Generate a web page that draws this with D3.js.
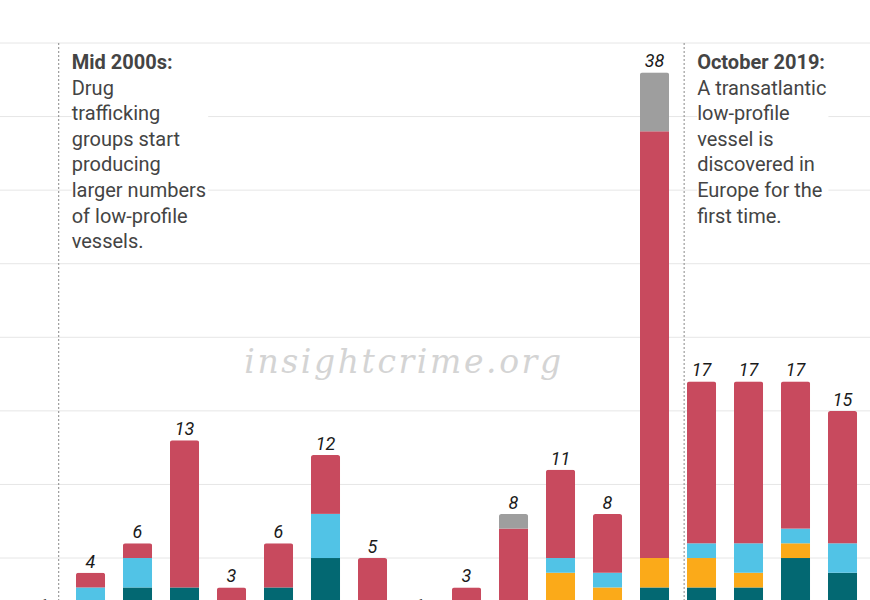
<!DOCTYPE html>
<html><head><meta charset="utf-8">
<script src="https://cdn.jsdelivr.net/npm/d3@7"></script>
<style>
html,body{margin:0;padding:0;background:#fff;overflow:hidden;}
svg{display:block;}
</style></head>
<body>
<svg id="chart" width="870" height="640"></svg>
<script>
// ---- data ----
const years = ["2006","2007","2008","2009","2010","2011","2012","2013","2014","2015","2016","2017","2018","2019","2020","2021","2022","2023"];
const seriesKeys = ["teal","orange","blue","red","gray"];
const teal   = [0,0,3,3,0,3,5,0,0,0,0,0,0,3,3,3,5,4];
const orange = [0,0,0,0,0,0,0,0,0,0,0,4,3,2,2,1,1,0];
const blue   = [0,3,2,0,0,0,3,0,0,0,0,1,1,0,1,2,1,2];
const red    = [1,1,1,10,3,3,4,5,1,3,7,6,4,29,11,11,10,9];
const gray   = [0,0,0,0,0,0,0,0,0,0,1,0,0,4,0,0,0,0];
const yTicks = [0,5,10,15,20,25,30,35,40];
const annotations = [
  {after:0, frac:0.323, title:"Mid 2000s:", lines:["Drug","trafficking","groups start","producing","larger numbers","of low-profile","vessels."]},
  {after:13, frac:0.63, title:"October 2019:", lines:["A transatlantic","low-profile","vessel is","discovered in","Europe for the","first time."]}
];
const colors = {teal:"#036872", orange:"#FBAA19", blue:"#51C3E6", red:"#C84A5E", gray:"#9E9E9E"};

const table = years.map((y,i)=>({year:y, teal:teal[i], orange:orange[i], blue:blue[i], red:red[i], gray:gray[i]}));
const totals = table.map(d=>seriesKeys.reduce((s,k)=>s+d[k],0));

const svg = d3.select("#chart");
const x = d3.scaleBand().domain(years).range([11.1, 11.1+47*18.38]).paddingInner(0.38).paddingOuter(0.38);
const y = d3.scaleLinear().domain([0,40]).range([631.6, 43]);

// gridlines
svg.append("g").selectAll("line").data(yTicks).join("line")
  .attr("x1",0).attr("x2",870).attr("y1",d=>y(d)).attr("y2",d=>y(d))
  .attr("stroke","#e6e6e6").attr("stroke-width",1);

// watermark
svg.append("text").attr("x",404).attr("y",373).attr("text-anchor","middle")
  .attr("font-family","'DejaVu Serif', serif").attr("font-style","italic")
  .attr("font-size",33).attr("letter-spacing",2.6).attr("fill","#d4d4d4")
  .text("insightcrime.org");

// stacked bars
const stack = d3.stack().keys(seriesKeys)(table);
const defs = svg.append("defs");
years.forEach((yr,i)=>{
  defs.append("clipPath").attr("id","clip"+i).append("rect")
    .attr("x",x(yr)).attr("width",x.bandwidth())
    .attr("y",y(totals[i])).attr("height",y(0)-y(totals[i])+10).attr("rx",2.5).attr("ry",2.5);
});
const gBars = svg.append("g");
stack.forEach(layer=>{
  gBars.append("g").attr("fill",colors[layer.key]).selectAll("rect")
    .data(layer.map((d,i)=>({d,i}))).join("rect")
    .attr("clip-path",o=>`url(#clip${o.i})`)
    .attr("x",o=>x(years[o.i])).attr("width",x.bandwidth())
    .attr("y",o=>y(o.d[1])).attr("height",o=>y(o.d[0])-y(o.d[1]));
});

// value labels
svg.append("g").selectAll("text").data(totals).join("text")
  .attr("x",(d,i)=>x(years[i])+x.bandwidth()/2).attr("y",d=>y(d)-5)
  .attr("text-anchor","middle").attr("font-family","Roboto, sans-serif")
  .attr("font-style","italic").attr("font-size",18).attr("fill","#1a1a1a")
  .text(d=>d);

// annotations
annotations.forEach(a=>{
  const lx = x(years[a.after]) + x.bandwidth()/2 + a.frac*x.step();
  svg.append("line").attr("x1",lx).attr("x2",lx).attr("y1",y(40)).attr("y2",y(0))
    .attr("stroke","#888").attr("stroke-width",1).attr("stroke-dasharray","2,2");
  const bg = svg.append("rect").attr("fill","#fff");
  const t = svg.append("text").attr("font-family","Roboto, sans-serif").attr("font-size",20).attr("fill","#444");
  t.append("tspan").attr("x",lx+13).attr("y",69).attr("font-weight","bold").text(a.title);
  a.lines.forEach((l,j)=>{
    t.append("tspan").attr("x",lx+13).attr("y",69+25.6*(j+1)).text(l);
  });
  const bb = t.node().getBBox();
  bg.attr("x",bb.x).attr("y",bb.y).attr("width",bb.width+2).attr("height",bb.height);
});
</script>
</body></html>
